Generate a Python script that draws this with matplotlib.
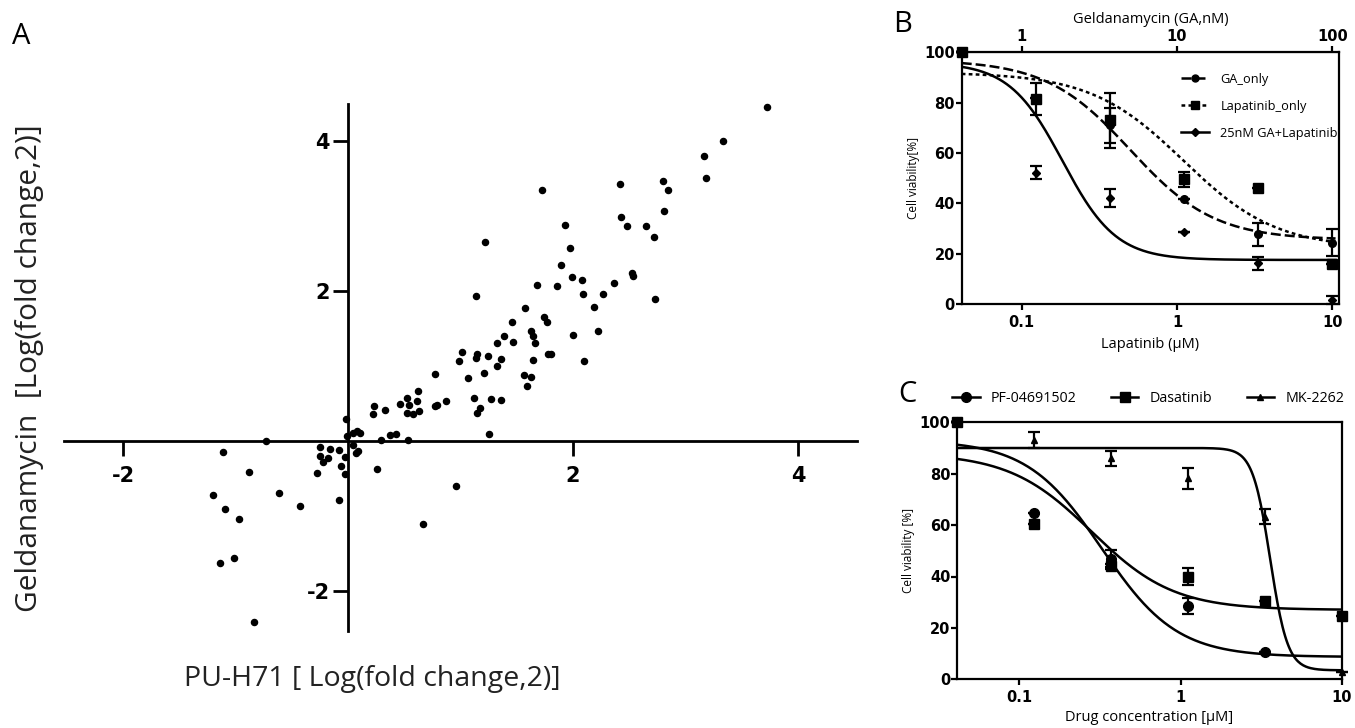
import numpy as np
import matplotlib
matplotlib.use('Agg')
import matplotlib.pyplot as plt
from matplotlib.lines import Line2D
from matplotlib.ticker import NullLocator

plt.rcParams['font.family'] = ['Open Sans', 'DejaVu Sans']
plt.rcParams['axes.unicode_minus'] = False

# ---------------- 数据 ----------------
# A: PU-H71 vs Geldanamycin (log2 fold change)
pu_h71 = [3.72, 3.33, 3.16, 3.18, 2.42, 2.80, 2.84, 2.81, 2.43, 2.48, 2.65, 2.72,
          1.72, 1.93, 1.22, 1.97, 1.89, 1.99, 2.08, 2.36, 2.52, 2.53, 1.68, 1.86,
          2.09, 2.27, 2.73, 1.14, 2.19, 1.57, 1.74, 1.77, 1.46, 1.63, 1.64, 1.39,
          2.22, 2.00, 1.32, 1.47, 1.66, 1.01, 1.15, 1.14, 1.24, 0.99, 1.36, 1.32,
          1.78, 1.80, 1.64, 2.10, 0.77, 1.07, 1.21, 1.56, 1.63, 1.59, 1.27, 1.36,
          1.25, 0.62, 0.52, 0.61, 0.46, 0.54, 0.23, 0.33, 0.52, 0.58, 0.63, 0.77,
          0.79, 0.87, 1.12, 1.17, 1.15, 0.22, -0.02, -0.01, 0.04, 0.08, 0.11, 0.29,
          0.37, 0.43, 0.53, 0.04, 0.09, 0.07, 0.26, 0.96, 0.67, -0.73, -1.11, -0.25,
          -0.16, -0.08, -0.25, -0.18, -0.22, -0.03, -0.06, -0.03, -0.28, -0.88, -0.61, -1.20,
          -1.09, -0.97, -0.43, -0.08, -1.01, -1.14, -0.84]
geldanamycin = [4.45, 4.00, 3.80, 3.51, 3.42, 3.46, 3.34, 3.07, 2.98, 2.87, 2.87, 2.72,
                3.35, 2.88, 2.65, 2.57, 2.34, 2.18, 2.14, 2.11, 2.24, 2.20, 2.08, 2.07,
                1.96, 1.96, 1.89, 1.93, 1.79, 1.77, 1.65, 1.58, 1.58, 1.46, 1.40, 1.40,
                1.47, 1.41, 1.30, 1.32, 1.30, 1.18, 1.16, 1.10, 1.13, 1.06, 1.09, 1.00,
                1.16, 1.16, 1.08, 1.06, 0.89, 0.84, 0.91, 0.88, 0.85, 0.74, 0.56, 0.55,
                0.10, 0.67, 0.57, 0.54, 0.50, 0.48, 0.47, 0.41, 0.38, 0.36, 0.40, 0.47,
                0.48, 0.53, 0.58, 0.44, 0.37, 0.36, 0.30, 0.07, 0.11, 0.14, 0.11, 0.02,
                0.08, 0.10, 0.01, -0.05, -0.13, -0.16, -0.37, -0.60, -1.10, 0.00, -0.15, -0.08,
                -0.11, -0.12, -0.20, -0.22, -0.28, -0.21, -0.33, -0.44, -0.43, -0.41, -0.69, -0.72,
                -0.91, -1.04, -0.87, -0.79, -1.56, -1.62, -2.41]

# B/C: 浓度 (uM)
conc = [0.0412, 0.123, 0.370, 1.11, 3.33, 10.0]

# B: 细胞活力 (%) 及误差
ga_only = [100, 82, 71, 41.7, 27.7, 24.4]
ga_only_err = [0, 0, 7, 0, 4.5, 5.5]
lap_only = [100, 81.5, 73, 49.5, 46, 15.8]
lap_only_err = [0, 6.5, 11, 3, 0, 0]
combo = [100, 52.2, 42, 28.5, 16.2, 1.6]
combo_err = [0, 2.7, 3.5, 0, 2.6, 1.5]
# 拟合曲线参数 (top, bottom, IC50, hill)
fit_ga = (97, 25.5, 0.5, 1.6)
fit_lap = (92, 22, 1.1, 1.45)
fit_combo = (96, 17.5, 0.1835, 2.52)

# C
pf = [100, 64.6, 47, 28.5, 10.8, np.nan]
pf_err = [0, 0, 3.3, 3.2, 0, 0]
dasatinib = [100, 60.4, 44, 40, 30.5, 24.8]
dasatinib_err = [0, 0, 1, 3.3, 0, 0]
mk = [100, 93.1, 86, 78.2, 63.3, 3]
mk_err = [0, 3, 3, 4, 3, 0]
fit_pf = (93, 8.7, 0.325, 1.87)
fit_das = (88, 27, 0.28, 1.7)
fit_mk = (90, 3.5, 3.6, 8)


def logistic(x, p):
    top, bottom, ic50, hill = p
    return bottom + (top - bottom) / (1 + (x / ic50) ** hill)


fig = plt.figure(figsize=(13.55, 7.28), dpi=100)
W, H = 1355, 728


def px_axes(l, t, r, b):
    return fig.add_axes([l / W, 1 - b / H, (r - l) / W, (b - t) / H])


# ---------------- A ----------------
axA = px_axes(64.5, 104, 856.5, 631)
axA.plot(pu_h71, geldanamycin, 'o', color='black', ms=4.4, clip_on=False)
axA.set_xlim(-2.52, 4.52)
axA.set_ylim(-2.53, 4.49)
for s in ['left', 'bottom']:
    axA.spines[s].set_position(('data', 0))
    axA.spines[s].set_linewidth(2)
axA.spines['top'].set_visible(False)
axA.spines['right'].set_visible(False)
axA.set_xticks([-2, 2, 4])
axA.set_yticks([-2, 2, 4])
axA.tick_params(axis='both', length=11, width=2, direction='out')
axA.tick_params(axis='x', pad=7)
axA.tick_params(axis='y', pad=2)
for lab in axA.get_xticklabels() + axA.get_yticklabels():
    lab.set_family('DejaVu Sans')
    lab.set_fontweight('bold')
    lab.set_fontsize(15)
fig.text(30 / W, 1 - 368 / H, 'Geldanamycin  [Log(fold change,2)]', rotation=90,
         ha='center', va='center', fontsize=21.5, color='#222222')
fig.text(372 / W, 1 - 679 / H, 'PU-H71 [ Log(fold change,2)]',
         ha='center', va='center', fontsize=20.5, color='#222222')
fig.text(12 / W, 1 - 36 / H, 'A', ha='left', va='center', fontsize=21)


def style_box(ax):
    for s in ax.spines.values():
        s.set_linewidth(1.6)
    ax.set_xscale('log')
    ax.xaxis.set_minor_locator(NullLocator())
    ax.set_ylim(0, 100)
    ax.set_yticks([0, 20, 40, 60, 80, 100])
    ax.set_xticks([0.1, 1, 10], ['0.1', '1', '10'])
    ax.tick_params(axis='both', length=4, width=1.6, direction='out')
    ax.tick_params(axis='y', pad=1)
    ax.tick_params(axis='x', pad=4)
    for lab in ax.get_xticklabels() + ax.get_yticklabels():
        lab.set_family('DejaVu Sans')
        lab.set_fontweight('bold')
        lab.set_fontsize(10.5)


# ---------------- B ----------------
axB = px_axes(961.7, 52.3, 1339.3, 304)
style_box(axB)
axB.set_xlim(0.0411, 11.1)
xs = np.logspace(np.log10(0.0411), np.log10(10.5), 300)
axB.plot(xs, logistic(xs, fit_ga), color='black', lw=1.8, dashes=(4, 1.6))
axB.plot(xs, logistic(xs, fit_lap), color='black', lw=1.8, dashes=(1.5, 1.3))
axB.plot(xs, logistic(xs, fit_combo), color='black', lw=1.8)
axB.errorbar(conc, lap_only, yerr=lap_only_err, fmt='s', color='black', ms=6.5,
             capsize=4, elinewidth=1.6, capthick=1.6, clip_on=False)
axB.errorbar(conc, ga_only, yerr=ga_only_err, fmt='o', color='black', ms=5.5,
             capsize=4, elinewidth=1.6, capthick=1.6, clip_on=False)
axB.errorbar(conc, combo, yerr=combo_err, fmt='D', color='black', ms=4.5,
             capsize=4, elinewidth=1.6, capthick=1.6, clip_on=False)
secB = axB.secondary_xaxis('top', functions=(lambda x: x * 10, lambda x: x / 10))
secB.set_xticks([1, 10, 100], ['1', '10', '100'])
secB.xaxis.set_minor_locator(NullLocator())
secB.tick_params(length=4, width=1.6, pad=2)
for lab in secB.get_xticklabels():
    lab.set_family('DejaVu Sans')
    lab.set_fontweight('bold')
    lab.set_fontsize(10.5)
secB.set_xlabel('Geldanamycin (GA,nM)', fontsize=10.5, labelpad=4)
axB.set_xlabel('Lapatinib (\u03bcM)', fontsize=10.5, labelpad=5)
axB.set_ylabel('Cell viability[%]', fontsize=8.5, labelpad=3)
handlesB = [Line2D([], [], color='black', lw=1.8, dashes=(4, 1.6), marker='o', ms=5),
            Line2D([], [], color='black', lw=1.8, dashes=(1.5, 1.3), marker='s', ms=5.5),
            Line2D([], [], color='black', lw=1.8, marker='D', ms=4.5)]
axB.legend(handlesB, ['GA_only', 'Lapatinib_only', '25nM GA+Lapatinib'], loc='upper left',
           bbox_to_anchor=(0.55, 0.965), frameon=False, fontsize=9.2, handlelength=2.2,
           labelspacing=1.1, handletextpad=0.9)
fig.text(893 / W, 1 - 25 / H, 'B', ha='left', va='center', fontsize=21)

# ---------------- C ----------------
axC = px_axes(957.3, 422.3, 1341.7, 679.3)
style_box(axC)
axC.set_xlim(0.0412, 10)
xs = np.logspace(np.log10(0.0412), 1, 300)
axC.plot(xs, logistic(xs, fit_pf), color='black', lw=1.8)
axC.plot(xs, logistic(xs, fit_das), color='black', lw=1.8)
axC.plot(xs, logistic(xs, fit_mk), color='black', lw=1.8)
axC.errorbar(conc, pf, yerr=pf_err, fmt='o', color='black', ms=7,
             capsize=4, elinewidth=1.6, capthick=1.6, clip_on=False)
axC.errorbar(conc, dasatinib, yerr=dasatinib_err, fmt='s', color='black', ms=6.5,
             capsize=4, elinewidth=1.6, capthick=1.6, clip_on=False)
axC.errorbar(conc, mk, yerr=mk_err, fmt='^', color='black', ms=4,
             capsize=4, elinewidth=1.6, capthick=1.6, clip_on=False)
axC.set_xlabel('Drug concentration [\u03bcM]', fontsize=10.5, labelpad=3)
axC.set_ylabel('Cell viability [%]', fontsize=8.5, labelpad=3)
handlesC = [Line2D([], [], color='black', lw=1.8, marker='o', ms=7),
            Line2D([], [], color='black', lw=1.8, marker='s', ms=6.5),
            Line2D([], [], color='black', lw=1.8, marker='^', ms=4)]
axC.legend(handlesC, ['PF-04691502', 'Dasatinib', 'MK-2262'], loc='lower left',
           bbox_to_anchor=(-0.035, 1.03), ncol=3, frameon=False, fontsize=10.3,
           handlelength=1.9, columnspacing=2.4, handletextpad=0.8, borderaxespad=0.2)
fig.text(898 / W, 1 - 395 / H, 'C', ha='left', va='center', fontsize=21)

plt.savefig('out.png', dpi=100)
